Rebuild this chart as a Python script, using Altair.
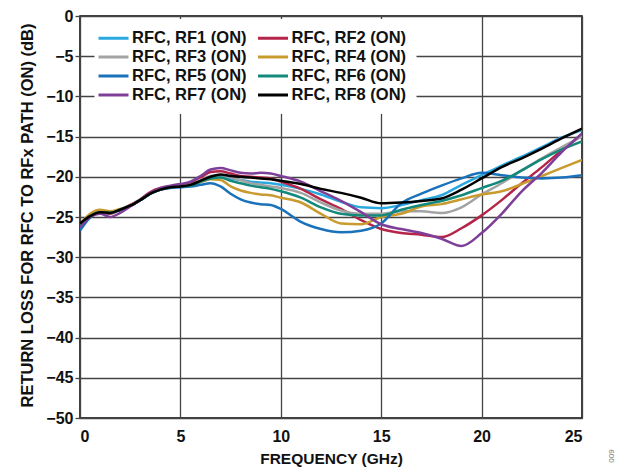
import altair as alt
import pandas as pd

freqs = [0, 0.5, 1, 1.5, 2, 2.5, 3, 3.5, 4, 4.5, 5, 5.5, 6, 6.5, 7, 7.5, 8, 8.5, 9, 9.5,
         10, 11, 12, 13, 14, 15, 16, 17, 18, 19, 20, 21, 22, 23, 24, 25]

rf1 = [-26.5, -25.0, -24.4, -24.5, -24.1, -23.6, -22.9, -22.1, -21.6, -21.3, -21.2, -21.0, -20.6, -20.2, -20.0, -20.2,
       -20.4, -20.6, -20.7, -20.8, -21.0, -21.5, -22.2, -23.1, -23.8, -23.9, -23.5, -22.9, -22.3, -21.0, -19.8,
       -18.6, -17.5, -16.3, -15.1, -14.2]
rf2 = [-26.2, -24.9, -24.4, -24.6, -24.1, -23.5, -22.8, -21.9, -21.4, -21.2, -21.0, -20.7, -20.1, -19.4, -19.3, -19.6,
       -19.9, -20.0, -20.1, -20.2, -20.6, -21.5, -22.8, -24.0, -25.4, -26.5, -27.0, -27.2, -27.5, -26.4, -24.8,
       -22.9, -20.8, -18.8, -16.7, -14.8]
rf3 = [-26.0, -24.9, -24.4, -24.5, -24.1, -23.6, -22.9, -22.1, -21.6, -21.3, -21.2, -21.0, -20.4, -19.9, -19.8, -20.1,
       -20.4, -20.8, -21.0, -21.2, -21.4, -22.0, -23.2, -24.2, -24.6, -24.6, -24.3, -24.3, -24.5, -23.8, -22.2,
       -20.8, -19.2, -17.7, -16.3, -15.0]
rf4 = [-25.9, -24.6, -24.1, -24.3, -24.0, -23.6, -22.9, -22.1, -21.6, -21.3, -21.2, -21.1, -20.7, -20.3, -20.4, -21.2,
       -21.7, -22.0, -22.2, -22.3, -22.6, -23.2, -24.6, -25.8, -25.9, -25.0, -24.6, -23.7, -23.4, -22.8, -22.2,
       -21.8, -20.9, -19.9, -18.9, -17.9]
rf5 = [-26.7, -25.1, -24.5, -24.5, -24.1, -23.6, -22.9, -22.1, -21.6, -21.4, -21.3, -21.2, -21.0, -20.8, -21.2, -22.1,
       -22.8, -23.2, -23.4, -23.5, -24.0, -25.6, -26.5, -26.9, -26.7, -25.8, -23.3, -22.1, -21.1, -20.2, -19.5,
       -19.8, -20.1, -20.2, -20.1, -19.8]
rf6 = [-26.1, -24.9, -24.4, -24.5, -24.1, -23.6, -22.9, -22.1, -21.6, -21.3, -21.2, -21.1, -20.6, -20.2, -20.1, -20.5,
       -20.8, -21.1, -21.3, -21.5, -21.8, -22.6, -23.8, -24.6, -24.8, -24.8, -24.1, -23.5, -23.0, -22.3, -21.4,
       -20.5, -19.2, -17.8, -16.6, -15.6]
rf7 = [-26.3, -25.0, -24.6, -25.0, -24.5, -23.7, -22.9, -22.0, -21.4, -21.1, -20.9, -20.6, -19.9, -19.1, -18.9, -19.2,
       -19.5, -19.6, -19.5, -19.6, -19.9, -20.6, -21.8, -23.0, -24.4, -25.9, -26.5, -27.0, -27.7, -28.6, -27.0,
       -24.6, -21.8, -19.5, -16.9, -14.6]
rf8 = [-25.8, -24.9, -24.4, -24.5, -24.1, -23.6, -22.9, -22.1, -21.6, -21.3, -21.2, -21.0, -20.5, -20.0, -19.7, -19.9,
       -20.0, -20.1, -20.2, -20.3, -20.5, -20.9, -21.5, -22.0, -22.6, -23.3, -23.2, -23.0, -22.7, -21.6, -20.2,
       -18.8, -17.7, -16.5, -15.2, -14.0]

names = ["RFC, RF1 (ON)", "RFC, RF2 (ON)", "RFC, RF3 (ON)", "RFC, RF4 (ON)",
         "RFC, RF5 (ON)", "RFC, RF6 (ON)", "RFC, RF7 (ON)", "RFC, RF8 (ON)"]
colors = ["#2aa8e0", "#b5254a", "#a3a3a3", "#c99a2e", "#1a72bb", "#12897a", "#7e3f98", "#000000"]
series = [rf1, rf2, rf3, rf4, rf5, rf6, rf7, rf8]

# legend is filled column by column: reorder so rows read RF1 RF2 / RF3 RF4 / ...
legend_order = [0, 2, 4, 6, 1, 3, 5, 7]
dom = [names[i] for i in legend_order]
rng = [colors[i] for i in legend_order]

rows = []
for n, s in zip(names, series):
    for f, v in zip(freqs, s):
        rows.append({"freq": f, "loss": v, "series": n})
df = pd.DataFrame(rows)

FONT = "Liberation Sans"

lines = alt.Chart(df).mark_line(strokeWidth=2.5, interpolate="monotone", clip=True).encode(
    x=alt.X("freq:Q", scale=alt.Scale(domain=[0, 25], nice=False),
            axis=alt.Axis(values=[0, 5, 10, 15, 20, 25], title="FREQUENCY (GHz)", tickSize=0,
                          labelPadding=10, titlePadding=7, titleFontSize=15.5)),
    y=alt.Y("loss:Q", scale=alt.Scale(domain=[-50, 0], nice=False),
            axis=alt.Axis(values=list(range(-50, 1, 5)), title="RETURN LOSS FOR RFC TO RFx PATH (ON) (dB)",
                          tickSize=5, labelPadding=2, titleFontSize=16.5,
                          titleX=-53, titleY=199, titleBaseline="middle", titleAlign="center")),
    color=alt.Color("series:N", scale=alt.Scale(domain=dom, range=rng),
                    legend=alt.Legend(title=None, orient="none", legendX=14.5, legendY=3, columns=2,
                                      columnPadding=4.5, rowPadding=1, symbolType="M-2,0H2",
                                      symbolStrokeWidth=3, symbolSize=225, labelFontSize=16.5,
                                      labelFontWeight="bold", labelFont=FONT, labelColor="#111",
                                      fillColor="white", padding=10, labelOffset=9.5)),
    detail="series:N",
)

fig_id = alt.Chart(pd.DataFrame({"t": ["009"]})).mark_text(
    angle=270, fontSize=8, color="#777", font=FONT
).encode(x=alt.value(532), y=alt.value(440), text="t:N")

chart = alt.layer(lines, fig_id).properties(
    width=502, height=402,
    background="white",
    autosize=alt.AutoSizeParams(type="none"),
    padding={"left": 80, "top": 16, "right": 36, "bottom": 50},
).configure_view(stroke="#000", strokeWidth=1.5).configure_axis(
    grid=True, gridColor="#444", gridWidth=1.3, domain=False,
    labelFont=FONT, labelFontSize=16, labelFontWeight="bold", labelColor="#111",
    titleFont=FONT, titleFontWeight="bold", titleColor="#111",
    tickColor="#444", tickWidth=1.3,
)

chart.save("out.html", embed_options={"renderer": "svg", "actions": False})
